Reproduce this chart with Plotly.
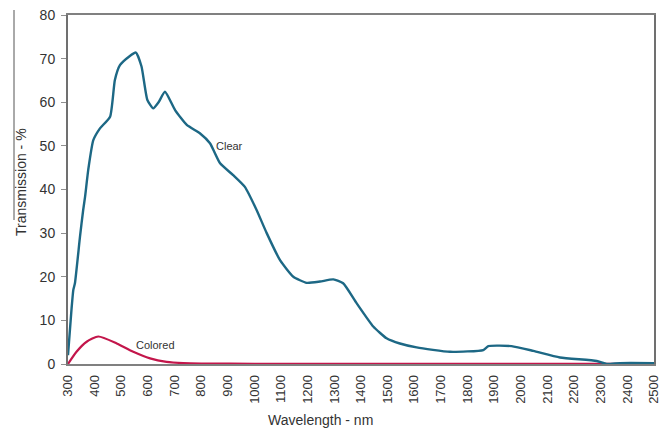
import plotly.graph_objects as go

clear_wl = [300, 313, 320, 326, 345, 357, 364, 376, 395, 420, 458, 476, 495, 530, 555, 576, 598, 620,
            640, 664, 702, 746, 795, 833, 871, 920, 964, 1008, 1046, 1096, 1146, 1196, 1246, 1296, 1333,
            1384, 1446, 1496, 1546, 1609, 1734, 1859, 1878, 1965, 2047, 2147, 2285, 2322, 2372, 2500]
clear_t = [2.0, 12.4, 17.0, 18.5, 29.2, 35.3, 38.3, 44.5, 51.3, 54.0, 56.7, 65.1, 68.5, 70.5, 71.4, 68.2,
           60.5, 58.6, 60.0, 62.4, 58.2, 54.8, 52.9, 50.6, 46.0, 43.3, 40.6, 35.3, 30.0, 23.8, 20.0, 18.6,
           18.9, 19.4, 18.5, 13.9, 8.6, 5.9, 4.7, 3.8, 2.8, 3.2, 4.1, 4.1, 3.0, 1.5, 0.7, 0.0, 0.2, 0.2]

colored_wl = [300, 332, 370, 414, 483, 545, 608, 670, 733, 800, 1000, 1500, 2000, 2500]
colored_t = [0.0, 2.8, 5.1, 6.3, 4.7, 2.8, 1.3, 0.5, 0.2, 0.1, 0.05, 0.05, 0.05, 0.05]

x_ticks = list(range(300, 2501, 100))
y_ticks = list(range(0, 81, 10))

fig = go.Figure()
fig.add_trace(go.Scatter(x=colored_wl, y=colored_t, mode="lines", name="Colored",
                         line=dict(color="#c3164b", width=2.2, shape="spline", smoothing=0.6)))
fig.add_trace(go.Scatter(x=clear_wl, y=clear_t, mode="lines", name="Clear",
                         line=dict(color="#1d6885", width=2.4, shape="spline", smoothing=0.5)))

fig.update_layout(
    width=665, height=430,
    margin=dict(l=68, r=11, t=15, b=66, autoexpand=False),
    paper_bgcolor="white", plot_bgcolor="white",
    showlegend=False,
    font=dict(family="Liberation Sans, Arial, sans-serif", color="#333333"),
)
fig.update_xaxes(range=[300, 2500], tickvals=x_ticks, ticktext=[str(v) for v in x_ticks],
                 tickangle=-90, tickfont=dict(size=13, color="#333333"), automargin=False,
                 showgrid=False, zeroline=False, showline=True, linecolor="#808080", linewidth=1.5,
                 mirror=True, ticks="outside", ticklen=4, tickcolor="rgba(0,0,0,0)")
fig.update_yaxes(range=[0, 80], tickvals=y_ticks, tickfont=dict(size=14, color="#333333"),
                 automargin=False, ticklabelstandoff=3,
                 showgrid=False, zeroline=False, showline=True, linecolor="#707070", linewidth=2,
                 mirror=True, ticks="outside", ticklen=5, tickcolor="#909090")

fig.add_annotation(x=905, y=50, text="Clear", showarrow=False,
                   font=dict(size=11, color="#333333"))
fig.add_annotation(x=630, y=4.4, text="Colored", showarrow=False,
                   font=dict(size=11, color="#333333"))

fig.add_annotation(xref="paper", yref="paper", x=(320 - 68) / 586, y=-(420 - 364) / 349,
                   text="Wavelength - nm", showarrow=False, font=dict(size=14, color="#333333"),
                   xanchor="center", yanchor="middle")
fig.add_annotation(xref="paper", yref="paper", x=(21 - 68) / 586, y=(364 - 182) / 349,
                   text="Transmission - %", showarrow=False, textangle=-90,
                   font=dict(size=14, color="#333333"), xanchor="center", yanchor="middle")

fig.add_shape(type="line", xref="paper", yref="paper", x0=(14 - 68) / 586, x1=(14 - 68) / 586,
              y0=(364 - 10) / 349, y1=(364 - 220) / 349, line=dict(color="#555555", width=1))

fig.write_html("out.html", config={"displayModeBar": False},
               post_script="document.body.style.margin='0';")
